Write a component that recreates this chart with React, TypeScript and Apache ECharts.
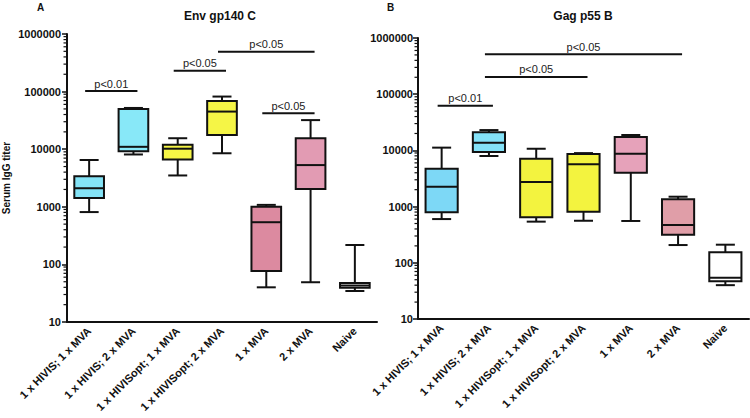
import React, { useEffect, useRef } from "react";
import * as echarts from "echarts";

const categories = [
  "1 x HIVIS; 1 x MVA",
  "1 x HIVIS; 2 x MVA",
  "1 x HIVISopt; 1 x MVA",
  "1 x HIVISopt; 2 x MVA",
  "1 x MVA",
  "2 x MVA",
  "Naive",
];

// [min, q1, median, q3, max]
const envBoxes = [
  [810, 1420, 2100, 3400, 6500],
  [8100, 9200, 11000, 50000, 52000],
  [3500, 6600, 10200, 12000, 15500],
  [8500, 17700, 45000, 69000, 82000],
  [40, 77, 540, 1000, 1080],
  [49, 2040, 5300, 15500, 32000],
  [34.5, 39.4, 43, 47.5, 217],
];
const gagBoxes = [
  [600, 790, 2260, 4700, 11200],
  [7950, 9400, 13700, 21000, 23000],
  [540, 645, 2740, 7100, 10700],
  [560, 810, 5650, 8630, 8950],
  [555, 4000, 8750, 17300, 18800],
  [207, 316, 470, 1350, 1500],
  [40, 47, 54, 154, 210],
];

const envColors = ["#84E3F6", "#88E8F8", "#F5F546", "#F5F546", "#DC8AA0", "#E29BB3", "#FFFFFF"];
const gagColors = ["#7DD8F6", "#84E2F8", "#F3F33F", "#F3F33F", "#E6A2BA", "#E09EA8", "#FFFFFF"];

// significance brackets: [fromCategory, toCategory, yValue]
const envSigPairs = [
  [0, 1, 102000],
  [2, 3, 230000],
  [3, 5, 490000],
  [4, 5, 42000],
];
const envSigLabels = ["p<0.01", "p<0.05", "p<0.05", "p<0.05"];
const gagSigPairs = [
  [0, 1, 62000],
  [1, 3, 203000],
  [1, 5, 513000],
];
const gagSigLabels = ["p<0.01", "p<0.05", "p<0.05"];

const yTickValues = [10, 100, 1000, 10000, 100000, 1000000];

const FONT = "Arial, 'Liberation Sans', sans-serif";

function minorTickValues() {
  const out: number[][] = [];
  for (let i = 0; i < yTickValues.length - 1; i++) {
    for (let m = 2; m <= 9; m++) out.push([0, yTickValues[i] * m]);
  }
  return out;
}

function boxSeries(idx: number, boxes: number[][], colors: string[], boxFrac: number) {
  return {
    type: "custom",
    xAxisIndex: idx,
    yAxisIndex: idx,
    encode: { x: 0, y: [1, 2, 3, 4, 5] },
    data: boxes.map((b, i) => [i, ...b]),
    renderItem: (params: any, api: any) => {
      const i = api.value(0);
      const band = api.size([1, 0])[0];
      const pMin = api.coord([i, api.value(1)]);
      const pQ1 = api.coord([i, api.value(2)]);
      const pMed = api.coord([i, api.value(3)]);
      const pQ3 = api.coord([i, api.value(4)]);
      const pMax = api.coord([i, api.value(5)]);
      const x = pMin[0];
      const hw = (band * boxFrac) / 2;
      const cw = 9.5;
      const stroke = "#111";
      const lw = 2;
      return {
        type: "group",
        children: [
          { type: "line", shape: { x1: x, y1: pMax[1], x2: x, y2: pQ3[1] }, style: { stroke, lineWidth: lw } },
          { type: "line", shape: { x1: x, y1: pQ1[1], x2: x, y2: pMin[1] }, style: { stroke, lineWidth: lw } },
          { type: "line", shape: { x1: x - cw, y1: pMax[1], x2: x + cw, y2: pMax[1] }, style: { stroke, lineWidth: lw } },
          { type: "line", shape: { x1: x - cw, y1: pMin[1], x2: x + cw, y2: pMin[1] }, style: { stroke, lineWidth: lw } },
          {
            type: "rect",
            shape: { x: x - hw, y: pQ3[1], width: hw * 2, height: pQ1[1] - pQ3[1] },
            style: { fill: colors[params.dataIndex], stroke, lineWidth: lw },
          },
          { type: "line", shape: { x1: x - hw, y1: pMed[1], x2: x + hw, y2: pMed[1] }, style: { stroke, lineWidth: lw } },
        ],
      };
    },
    z: 3,
  };
}

function sigSeries(idx: number, pairs: number[][], labels: string[]) {
  return {
    type: "custom",
    xAxisIndex: idx,
    yAxisIndex: idx,
    encode: { x: [0, 1], y: 2 },
    data: pairs,
    renderItem: (params: any, api: any) => {
      const a = api.coord([api.value(0), api.value(2)]);
      const b = api.coord([api.value(1), api.value(2)]);
      const ext = 4;
      return {
        type: "group",
        children: [
          { type: "line", shape: { x1: a[0] - ext, y1: a[1], x2: b[0] + ext, y2: b[1] }, style: { stroke: "#111", lineWidth: 2 } },
          {
            type: "text",
            x: (a[0] + b[0]) / 2,
            y: a[1] - 2,
            style: {
              text: labels[params.dataIndex],
              fill: "#222",
              font: `11px ${FONT}`,
              textAlign: "center",
              textVerticalAlign: "bottom",
            },
          },
        ],
      };
    },
    z: 4,
  };
}

function minorSeries(idx: number) {
  return {
    type: "custom",
    xAxisIndex: idx,
    yAxisIndex: idx,
    encode: { x: 0, y: 1 },
    data: minorTickValues(),
    renderItem: (params: any, api: any) => {
      const p = api.coord([0, api.value(1)]);
      const band = api.size([1, 0])[0];
      const x0 = p[0] - band / 2;
      return {
        type: "line",
        shape: { x1: x0 - 3.5, y1: p[1], x2: x0, y2: p[1] },
        style: { stroke: "#111", lineWidth: 1.2 },
      };
    },
    z: 2,
  };
}

function xAxis(idx: number) {
  return {
    type: "category",
    gridIndex: idx,
    data: categories,
    axisLine: { lineStyle: { color: "#111", width: 2 } },
    axisTick: { alignWithLabel: true, length: 5, lineStyle: { color: "#111", width: 1.5 } },
    axisLabel: {
      interval: 0,
      rotate: 45,
      margin: 7,
      color: "#111",
      fontSize: 11,
      fontWeight: "bold",
      fontFamily: FONT,
    },
    splitLine: { show: false },
  };
}

function yAxis(idx: number, withName: boolean, margin: number) {
  return {
    type: "log",
    logBase: 10,
    gridIndex: idx,
    min: 10,
    max: 1000000,
    splitNumber: 5,
    name: withName ? "Serum IgG titer" : "",
    nameLocation: "middle",
    nameGap: 56,
    nameRotate: 90,
    nameTextStyle: { fontSize: 10, fontWeight: "bold", fontFamily: FONT, color: "#111" },
    axisLine: { show: true, lineStyle: { color: "#111", width: 2 } },
    axisTick: { show: true, length: 5, lineStyle: { color: "#111", width: 1.5 } },
    axisLabel: {
      margin,
      color: "#111",
      fontSize: 11,
      fontWeight: "bold",
      fontFamily: FONT,
      formatter: (v: number) => String(Math.round(v)),
    },
    splitLine: { show: false },
  };
}

export default function App() {
  const ref = useRef<HTMLDivElement>(null);
  useEffect(() => {
    if (!ref.current) return;
    const chart = echarts.init(ref.current, undefined, { renderer: "svg" });
    chart.setOption({
      animation: false,
      backgroundColor: "#FFFFFF",
      grid: [
        { left: 63, top: 34, width: 314, height: 288 },
        { left: 418, top: 38, width: 331, height: 281 },
      ],
      xAxis: [xAxis(0), xAxis(1)],
      yAxis: [yAxis(0, true, 6), yAxis(1, false, 5)],
      graphic: [
        { type: "text", left: 37, top: 2, style: { text: "A", font: `bold 10px ${FONT}`, fill: "#111" } },
        { type: "text", left: 387, top: 2, style: { text: "B", font: `bold 10px ${FONT}`, fill: "#111" } },
        {
          type: "text",
          x: 220,
          y: 16,
          style: { text: "Env gp140 C", font: `bold 12px ${FONT}`, fill: "#111", textAlign: "center", textVerticalAlign: "middle" },
        },
        {
          type: "text",
          x: 583,
          y: 16,
          style: { text: "Gag p55 B", font: `bold 12px ${FONT}`, fill: "#111", textAlign: "center", textVerticalAlign: "middle" },
        },
      ],
      series: [
        minorSeries(0),
        minorSeries(1),
        boxSeries(0, envBoxes, envColors, 0.67),
        boxSeries(1, gagBoxes, gagColors, 0.68),
        sigSeries(0, envSigPairs, envSigLabels),
        sigSeries(1, gagSigPairs, gagSigLabels),
      ],
    });
    return () => chart.dispose();
  }, []);
  return (
    <div
      ref={ref}
      style={{ position: "absolute", left: 0, top: 0, width: 750, height: 418, background: "#fff" }}
    />
  );
}
